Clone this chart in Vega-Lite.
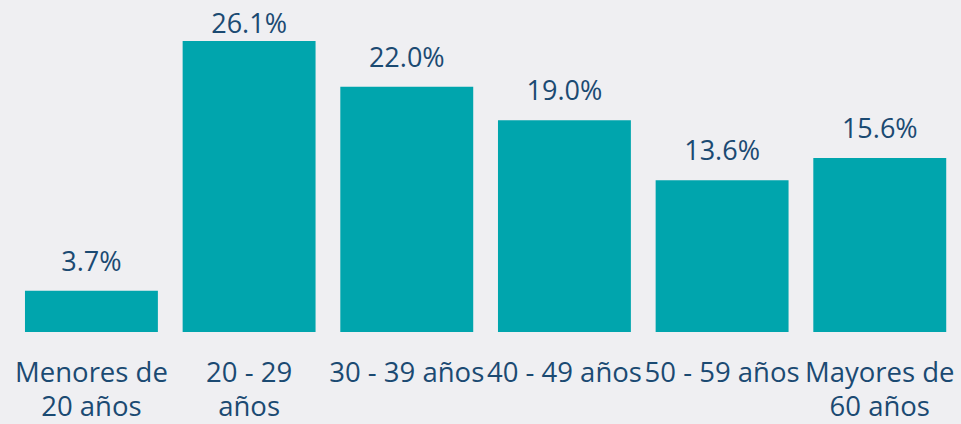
{
  "$schema": "https://vega.github.io/schema/vega-lite/v6.json",
  "autosize": "none",
  "width": 946,
  "height": 291,
  "padding": {"left": 12.6, "top": 41, "right": 2.4, "bottom": 92},
  "background": "#EFEFF2",
  "config": {"view": {"stroke": null}, "font": "Open Sans"},
  "data": {
    "values": [
      {"grupo": "Menores de|20 años", "pct": 0.037},
      {"grupo": "20 - 29|años", "pct": 0.261},
      {"grupo": "30 - 39 años", "pct": 0.22},
      {"grupo": "40 - 49 años", "pct": 0.19},
      {"grupo": "50 - 59 años", "pct": 0.136},
      {"grupo": "Mayores de|60 años", "pct": 0.156}
    ]
  },
  "encoding": {
    "x": {
      "field": "grupo", "type": "nominal", "sort": null,
      "scale": {"paddingInner": 0.157, "paddingOuter": 0.0785},
      "axis": {
        "title": null, "domain": false, "ticks": false, "labelAngle": 0,
        "labelPadding": 27, "labelFontSize": 27.5, "labelColor": "#1B4A72",
        "labelFont": "Open Sans", "labelLineHeight": 34, "labelBaseline": "top",
        "labelExpr": "split(datum.value, '|')", "labelOverlap": false, "labelLimit": 0
      }
    },
    "y": {
      "field": "pct", "type": "quantitative",
      "scale": {"domain": [0, 0.261], "nice": false, "zero": true},
      "axis": null
    }
  },
  "layer": [
    {"mark": {"type": "bar", "color": "#00A5AD"}},
    {
      "transform": [{"filter": "datum.pct < 0.25"}],
      "mark": {"type": "text", "baseline": "bottom", "dy": -14, "fontSize": 27, "color": "#1B4A72", "font": "Open Sans"},
      "encoding": {"text": {"field": "pct", "type": "quantitative", "format": ".1%"}}
    },
    {
      "transform": [{"filter": "datum.pct >= 0.25"}],
      "mark": {"type": "text", "baseline": "bottom", "dy": -2, "fontSize": 27, "color": "#1B4A72", "font": "Open Sans"},
      "encoding": {"text": {"field": "pct", "type": "quantitative", "format": ".1%"}}
    }
  ]
}
